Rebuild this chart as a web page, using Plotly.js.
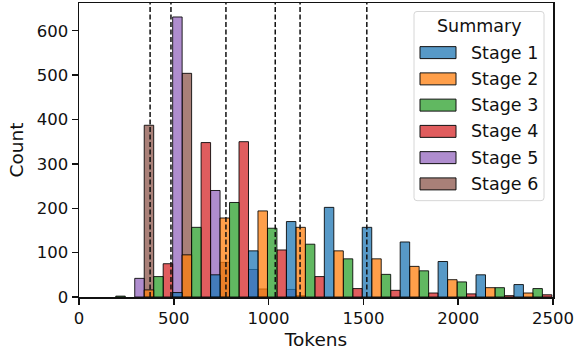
<!DOCTYPE html>
<html>
<head>
<meta charset="utf-8">
<script src="https://cdn.plot.ly/plotly-3.0.1.min.js"></script>
<style>html,body{margin:0;padding:0;background:#fff;}#chart{width:576px;height:354px;}</style>
</head>
<body>
<div id="chart"></div>
<script>
// ---- data ----
const stageNames = ["Stage 1", "Stage 2", "Stage 3", "Stage 4", "Stage 5", "Stage 6"];
const binStarts = [94, 294, 494, 694, 894, 1094, 1294, 1494, 1694, 1894, 2094, 2294];
const binWidth = 200;
const stage1 = [0, 0, 10, 50, 104, 170, 202, 157, 124, 80, 50, 28];
const stage2 = [0, 16, 95, 178, 194, 157, 104, 86, 69, 39, 21, 9];
const stage3 = [2, 46, 157, 213, 155, 119, 86, 51, 59, 34, 21, 19];
const stage4 = [0, 75, 348, 350, 106, 46, 19, 15, 9, 7, 3, 5];
const stage5 = [0, 42, 631, 240, 62, 17, 0, 0, 0, 0, 0, 0];
const stage6 = [0, 387, 504, 78, 18, 3, 0, 0, 0, 0, 0, 0];
const meanLines = [375, 485, 775, 1035, 1166, 1518];
const xTicks = [0, 500, 1000, 1500, 2000, 2500];
const yTicks = [0, 100, 200, 300, 400, 500, 600];

const series = [stage1, stage2, stage3, stage4, stage5, stage6];
const slotOf = [0, 1, 2, 3, 0, 1];
const baseColors = [[31,119,180],[255,127,14],[44,160,44],[214,39,40],[148,103,189],[140,86,75]];
const rgba = (c, a) => `rgba(${c[0]},${c[1]},${c[2]},${a})`;

const slotW = binWidth / 4;
const traces = [];
for (let s = series.length - 1; s >= 0; s--) {
  traces.push({
    type: 'bar',
    name: stageNames[s],
    x: binStarts.map(b => b + slotW * (slotOf[s] + 0.5)),
    y: series[s].map(v => (v === 0 ? null : v)),
    width: binStarts.map(() => slotW),
    marker: {color: rgba(baseColors[s], 0.75), line: {color: 'rgba(0,0,0,0.85)', width: 1}},
    showlegend: false,
    hoverinfo: 'skip'
  });
}

// plot area geometry in pixels
const L = 79, R = 553, T = 3, B = 297.5;
const W = R - L, H = B - T;
const px = v => (v - L) / W;
const py = v => (B - v) / H;

const shapes = meanLines.map(m => ({
  type: 'line', xref: 'x', yref: 'paper', x0: m, x1: m, y0: 0, y1: 1,
  line: {color: '#111', width: 1.5, dash: '5px,2.5px'}, layer: 'above'
}));

// legend box (rounded)
const lx0 = 414, lx1 = 544, ly0 = 11.5, ly1 = 201, r = 3;
const rx = r / W, ry = r / H;
const X0 = px(lx0), X1 = px(lx1), Y0 = py(ly1), Y1 = py(ly0);
shapes.push({
  type: 'path', xref: 'paper', yref: 'paper',
  path: `M ${X0+rx},${Y0} L ${X1-rx},${Y0} Q ${X1},${Y0} ${X1},${Y0+ry} L ${X1},${Y1-ry} Q ${X1},${Y1} ${X1-rx},${Y1} L ${X0+rx},${Y1} Q ${X0},${Y1} ${X0},${Y1-ry} L ${X0},${Y0+ry} Q ${X0},${Y0} ${X0+rx},${Y0} Z`,
  fillcolor: 'rgba(255,255,255,0.85)', line: {color: '#d6d6d6', width: 1}, layer: 'above'
});
const legendFont = {family: 'DejaVu Sans', size: 17.5, color: '#111'};
const annotations = [{
  xref: 'paper', yref: 'paper', x: px((lx0 + lx1) / 2), y: py(26),
  text: 'Summary', showarrow: false, xanchor: 'center', yanchor: 'middle',
  font: legendFont
}];
const entryY0 = 52.7, entryStep = 26.3;
stageNames.forEach((n, i) => {
  const yc = entryY0 + i * entryStep;
  shapes.push({
    type: 'rect', xref: 'paper', yref: 'paper',
    x0: px(420), x1: px(456), y0: py(yc + 6), y1: py(yc - 6),
    fillcolor: rgba(baseColors[i], 0.75), line: {color: '#111', width: 1}, layer: 'above'
  });
  annotations.push({
    xref: 'paper', yref: 'paper', x: px(469), y: py(yc),
    text: n, showarrow: false, xanchor: 'left', yanchor: 'middle',
    font: legendFont
  });
});

const axisCommon = {
  showline: true, linecolor: '#111', linewidth: 1.5, mirror: true,
  ticks: 'outside', ticklen: 6, tickwidth: 1.5, tickcolor: '#111',
  showgrid: false, zeroline: false,
  tickfont: {family: 'DejaVu Sans', size: 16.5, color: '#111'}
};

const layout = {
  width: 576, height: 354,
  margin: {l: L, r: 576 - R, t: T, b: 354 - B},
  paper_bgcolor: '#fff', plot_bgcolor: '#fff',
  barmode: 'overlay', bargap: 0,
  showlegend: false,
  xaxis: Object.assign({}, axisCommon, {
    range: [0, 2500], tickvals: xTicks, ticktext: xTicks.map(String),
    title: {text: 'Tokens', font: {family: 'DejaVu Sans', size: 18.5, color: '#111'}, standoff: 6}
  }),
  yaxis: Object.assign({}, axisCommon, {
    range: [0, 662.5], tickvals: yTicks, ticktext: yTicks.map(String),
    title: {text: 'Count', font: {family: 'DejaVu Sans', size: 18.5, color: '#111'}, standoff: 8}
  }),
  shapes: shapes,
  annotations: annotations
};

Plotly.newPlot('chart', traces, layout, {staticPlot: true, displayModeBar: false});
</script>
</body>
</html>
